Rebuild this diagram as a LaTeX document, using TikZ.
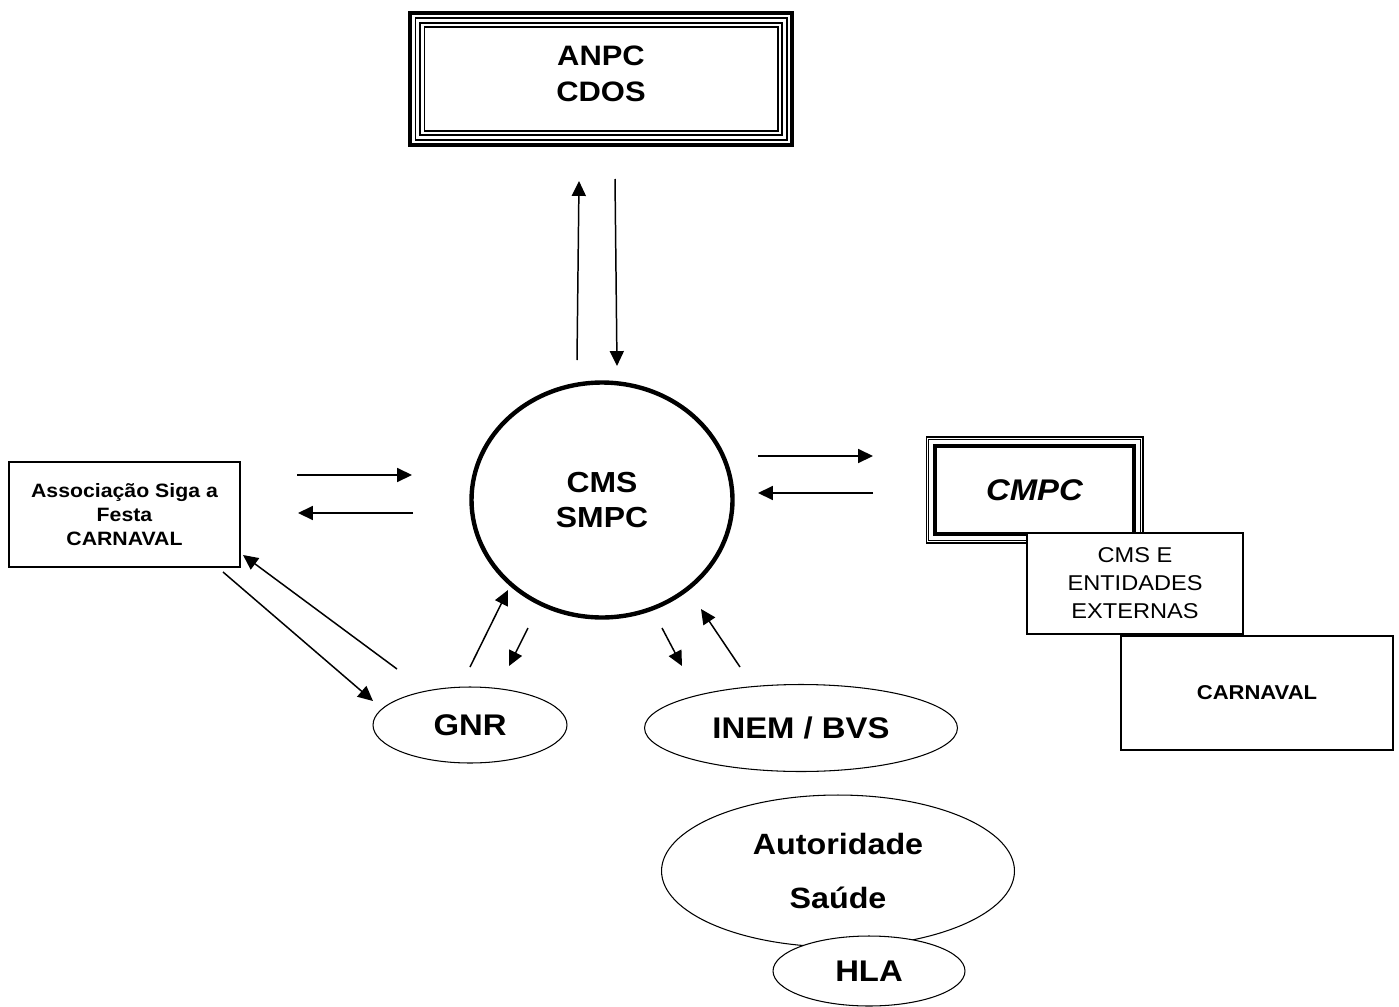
\documentclass[tikz,border=0pt]{standalone}
\usepackage{fontspec}
\setmainfont{Liberation Sans}[FakeStretch=1.1]
\usetikzlibrary{arrows.meta,shapes.geometric}

\begin{document}
\begin{tikzpicture}[x=0.02cm, y=-0.02cm,
    plainbox/.style={rectangle, draw, fill=white, line width=0.85pt, inner sep=0pt,
                     outer sep=0pt, align=center},
    oval/.style={ellipse, draw, fill=white, line width=0.6pt, inner sep=0pt,
                 outer sep=0pt, align=center, font=\fontsize{17}{20}\selectfont\bfseries},
    flow/.style={-{Triangle[length=8.5pt,width=8pt]}, line width=0.85pt},
  ]
    \useasboundingbox (0,0) rectangle (1399,1007);

    % ANPC / CDOS, triple frame
    \node[plainbox, line width=2.3pt, minimum width=7.64cm, minimum height=2.64cm, text depth=6pt,
          font=\fontsize{16}{20}\selectfont\bfseries] (anpc) at (601,79) {ANPC\\CDOS};
    \draw[line width=0.6pt] ([shift={(5,5)}]anpc.north west) rectangle ([shift={(-5,-5)}]anpc.south east);
    \draw[line width=1.5pt] ([shift={(10,10)}]anpc.north west) rectangle ([shift={(-10,-10)}]anpc.south east);
    \draw[line width=0.6pt] ([shift={(14,14)}]anpc.north west) rectangle ([shift={(-14,-14)}]anpc.south east);

    % CMS / SMPC
    \node[oval, line width=2.5pt, minimum width=5.22cm, minimum height=4.7cm,
          font=\fontsize{16.5}{20}\selectfont\bfseries] (cms) at (602,500) {CMS\\SMPC};

    % Associacao
    \node[plainbox, minimum width=4.62cm, minimum height=2.1cm,
          font=\fontsize{11}{13.6}\selectfont\bfseries] (assoc) at (124.5,514.5)
          {Associação Siga a\\Festa\\CARNAVAL};

    % CMPC and its group
    \node[plainbox, line width=0.6pt, minimum width=4.34cm, minimum height=2.12cm,
          font=\fontsize{17}{20}\selectfont\bfseries\itshape] (cmpc) at (1034.5,490) {CMPC};
    \draw[line width=0.6pt] ([shift={(2.7,2.7)}]cmpc.north west) rectangle ([shift={(-2.7,-2.7)}]cmpc.south east);
    \draw[line width=2.8pt] ([shift={(9,9)}]cmpc.north west) rectangle ([shift={(-9,-9)}]cmpc.south east);
    \node[plainbox, minimum width=4.32cm, minimum height=2.02cm,
          font=\fontsize{12.2}{16}\selectfont] (cmse) at (1135,583.5) {CMS E\\ENTIDADES\\EXTERNAS};
    \node[plainbox, minimum width=5.44cm, minimum height=2.28cm,
          font=\fontsize{11.4}{13}\selectfont\bfseries] (carnaval) at (1257,693) {CARNAVAL};

    % Ovals below
    \node[oval, minimum width=3.88cm, minimum height=1.52cm] (gnr) at (470,725) {GNR};
    \node[oval, minimum width=6.26cm, minimum height=1.74cm] (inem) at (801,728) {INEM / BVS};
    \node[oval, minimum width=7.06cm, minimum height=3.04cm, font=\fontsize{16.7}{31}\selectfont\bfseries]
          (saude) at (838,871) {Autoridade\\Saúde};
    \node[oval, minimum width=3.84cm, minimum height=1.4cm] (hla) at (869,971) {HLA};

    % Arrow ends
    \coordinate (upA) at (577,360);   \coordinate (upB) at (579,181);
    \coordinate (dnA) at (615,179);   \coordinate (dnB) at (617,366);
    \coordinate (asA) at (297,475);   \coordinate (asB) at (412,475);
    \coordinate (saA) at (413,513);   \coordinate (saB) at (298,513);
    \coordinate (cpA) at (758,456);   \coordinate (cpB) at (873,456);
    \coordinate (pcA) at (873,493);   \coordinate (pcB) at (758,493);
    \coordinate (agA) at (223,572);   \coordinate (agB) at (373,701);
    \coordinate (gaA) at (397,669);   \coordinate (gaB) at (243,555);
    \coordinate (gcA) at (470,667);   \coordinate (gcB) at (508,590);
    \coordinate (cgA) at (528,628);   \coordinate (cgB) at (509,666);
    \coordinate (ciA) at (662,628);   \coordinate (ciB) at (682,666);
    \coordinate (icA) at (740,667);   \coordinate (icB) at (701,609);

    % Arrows
    \draw[flow] (upA) -- (upB);
    \draw[flow] (dnA) -- (dnB);
    \draw[flow] (asA) -- (asB);
    \draw[flow] (saA) -- (saB);
    \draw[flow] (cpA) -- (cpB);
    \draw[flow] (pcA) -- (pcB);
    \draw[flow] (agA) -- (agB);
    \draw[flow] (gaA) -- (gaB);
    \draw[flow] (gcA) -- (gcB);
    \draw[flow] (cgA) -- (cgB);
    \draw[flow] (ciA) -- (ciB);
    \draw[flow] (icA) -- (icB);
\end{tikzpicture}
\end{document}
